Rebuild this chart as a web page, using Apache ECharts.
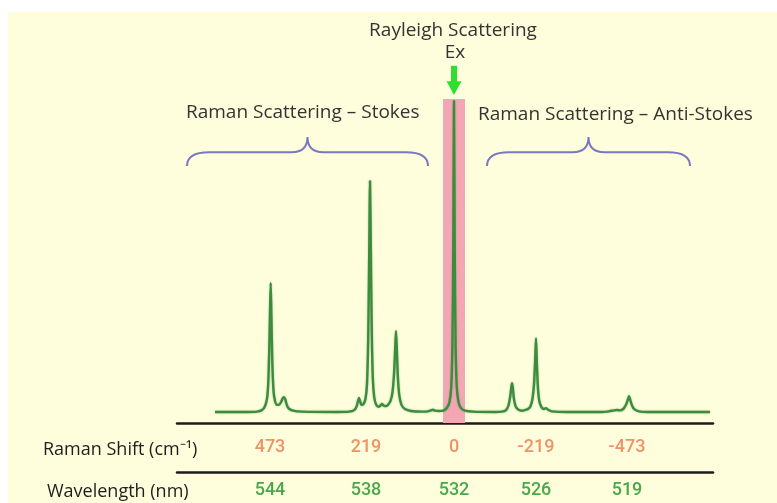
<!DOCTYPE html>
<html>
<head>
<meta charset="utf-8">
<script src="https://cdn.jsdelivr.net/npm/echarts@6/dist/echarts.min.js"></script>
<style>
  html, body { margin: 0; padding: 0; background: #ffffff; }
  #chart { width: 777px; height: 503px; }
</style>
</head>
<body>
<div id="chart"></div>
<script>
// Spectrum: [channel, intensity]; channel runs along the detector, intensity in arbitrary units
const spectrum = [
  [38, 3.4], [70, 3.4], [80, 3.5], [85, 4.0], [88, 5.2], [90, 7.5], [91.2, 12], [92.2, 22], [93, 34], [93.7, 43.2],
  [94.4, 33], [95.3, 19], [96.5, 10], [98, 6.8], [100, 5.6], [102, 5.6], [104, 6.4], [105.5, 7.5], [107, 8.0],
  [108.3, 7.3], [110, 5.4], [112, 4.4], [116, 3.8], [125, 3.5], [160, 3.4], [172, 3.5], [177, 3.9], [179.5, 5.0],
  [181, 6.8], [182, 7.7], [183, 6.8], [184.5, 5.6], [186.5, 5.8], [188.5, 7.5], [190, 12], [191.2, 26], [192.2, 52],
  [193, 74.7], [193.8, 55], [194.7, 30], [195.8, 14], [197.2, 8], [199, 5.8], [201.5, 5.0], [203.5, 5.4], [205, 5.9],
  [206.5, 5.4], [208.5, 5.2], [211, 5.6], [213.5, 6.8], [215.5, 9.5], [217, 15], [218.2, 23], [219, 28.4],
  [219.8, 23], [220.9, 14], [222.3, 8.5], [224.5, 5.6], [228, 4.3], [234, 3.7], [245, 3.5], [251, 3.6], [254, 3.9],
  [256, 4.1], [258, 3.8], [262, 3.7], [267, 3.9], [270, 4.7], [272.5, 6.5], [274.2, 11], [275.4, 24], [276.3, 55],
  [277, 99.4], [277.7, 55], [278.6, 24], [279.8, 11], [281.5, 6.5], [284, 4.6], [288, 3.8], [296, 3.5], [318, 3.4],
  [325, 3.5], [329, 4.0], [331.5, 5.4], [333.2, 8.2], [334.3, 11], [335, 12.3], [335.8, 11], [336.9, 7.5],
  [338.8, 5.0], [341.5, 4.1], [345, 3.8], [348, 4.0], [351, 4.3], [353.5, 5.2], [355.5, 7.5], [357, 12], [358.1, 19],
  [359, 26.2], [359.8, 19], [360.9, 11], [362.3, 6.8], [364.5, 4.9], [367, 4.3], [369, 4.6], [371, 4.1], [375, 3.6],
  [390, 3.4], [425, 3.4], [432, 3.6], [437, 3.9], [440, 4.0], [443, 3.9], [446.5, 4.4], [449, 5.6], [450.8, 7.2],
  [452, 8.3], [453.2, 7.2], [455, 5.4], [457.5, 4.2], [462, 3.6], [470, 3.4], [533, 3.4]
];

// Ticks sit under the lines they name
const tickChannels = [93, 189, 277, 359, 450];
const ramanShiftLabels = ['473', '219', '0', '-219', '-473'];
const wavelengthLabels = ['544', '538', '532', '526', '519'];

// Elastic (Rayleigh) band around the excitation line
const rayleighBand = [266, 288];
// Stokes / anti-Stokes regions, in channels
const stokesRange = [10, 251];
const antiStokesRange = [310, 513];
const excitationChannel = 277;

const FONT = '"Open Sans"';
const NUM_FONT = 'Roboto';
const TEXT = '#333333';

const chart = echarts.init(document.getElementById('chart'), null, { renderer: 'canvas' });

function labelFor(list) {
  return function (v) {
    const i = tickChannels.indexOf(v);
    return i >= 0 ? list[i] : '';
  };
}

const axisLine = { show: true, lineStyle: { color: '#1b1b1b', width: 2.5 } };

// Braces over the Raman regions and the excitation arrow, placed in data space
function renderOverlay(params, api) {
  const kind = api.value(0);
  if (kind === 0 || kind === 1) {
    const r = kind === 0 ? stokesRange : antiStokesRange;
    const a = api.coord([r[0], 79.3]);
    const b = api.coord([r[1], 79.3]);
    const yF = api.coord([0, 83.6])[1];
    const yT = api.coord([0, 88.3])[1];
    const yE = a[1];
    const mid = (a[0] + b[0]) / 2;
    const path = 'M' + a[0] + ',' + yE +
      ' Q' + a[0] + ',' + yF + ' ' + (a[0] + 22) + ',' + yF +
      ' L' + (mid - 16) + ',' + yF +
      ' Q' + mid + ',' + yF + ' ' + mid + ',' + yT +
      ' Q' + mid + ',' + yF + ' ' + (mid + 16) + ',' + yF +
      ' L' + (b[0] - 22) + ',' + yF +
      ' Q' + b[0] + ',' + yF + ' ' + b[0] + ',' + yE;
    return {
      type: 'path',
      shape: { pathData: path },
      style: { fill: null, stroke: '#7b78c2', lineWidth: 2 }
    };
  }
  const top = api.coord([excitationChannel, 110.3]);
  const tip = api.coord([excitationChannel, 101.2]);
  const neck = api.coord([excitationChannel, 105.5]);
  const x = top[0];
  return {
    type: 'polygon',
    shape: {
      points: [
        [x - 3, top[1]], [x + 3, top[1]], [x + 3, neck[1]], [x + 7.5, neck[1]],
        [x, tip[1]], [x - 7.5, neck[1]], [x - 3, neck[1]]
      ]
    },
    style: { fill: '#2ee02e' }
  };
}

const option = {
  backgroundColor: '#ffffff',
  animation: false,
  grid: { left: 177, right: 64, top: 18, bottom: 80 },
  xAxis: [
    {
      type: 'value', min: 0, max: 536, position: 'bottom',
      axisLine: axisLine, axisTick: { show: false }, splitLine: { show: false },
      axisLabel: {
        customValues: tickChannels, formatter: labelFor(ramanShiftLabels),
        color: '#ef9266', fontFamily: NUM_FONT, fontSize: 18, fontWeight: 500, margin: 15
      }
    },
    {
      type: 'value', min: 0, max: 536, position: 'bottom', offset: 49,
      axisLine: axisLine, axisTick: { show: false }, splitLine: { show: false },
      axisLabel: {
        customValues: tickChannels, formatter: labelFor(wavelengthLabels),
        color: '#4aa84a', fontFamily: NUM_FONT, fontSize: 18, fontWeight: 500, margin: 9
      }
    }
  ],
  yAxis: { type: 'value', min: 0, max: 125, show: false },
  graphic: [
    { type: 'rect', z: -100, silent: true, shape: { x: 8, y: 12, width: 769, height: 491 }, style: { fill: '#fefedc' } },
    { type: 'text', x: 453, y: 31, style: { text: 'Rayleigh Scattering', fontFamily: FONT, fontSize: 19, fill: TEXT, align: 'center', verticalAlign: 'middle' } },
    { type: 'text', x: 455, y: 53, style: { text: 'Ex', fontFamily: FONT, fontSize: 19, fill: TEXT, align: 'center', verticalAlign: 'middle' } },
    { type: 'text', x: 186, y: 113, style: { text: 'Raman Scattering – Stokes', fontFamily: FONT, fontSize: 19, fill: TEXT, align: 'left', verticalAlign: 'middle' } },
    { type: 'text', x: 478, y: 115, style: { text: 'Raman Scattering – Anti-Stokes', fontFamily: FONT, fontSize: 19, fill: TEXT, align: 'left', verticalAlign: 'middle' } },
    { type: 'text', x: 43, y: 450, style: { text: 'Raman Shift (cm\u207B\u00B9)', fontFamily: FONT, fontSize: 18, fill: '#1e1e1e', align: 'left', verticalAlign: 'middle' } },
    { type: 'text', x: 47, y: 492, style: { text: 'Wavelength (nm)', fontFamily: FONT, fontSize: 18, fill: '#1e1e1e', align: 'left', verticalAlign: 'middle' } }
  ],
  series: [
    {
      type: 'line', name: 'band', data: [], z: 1, silent: true,
      markArea: {
        silent: true,
        itemStyle: { color: '#f5a6b4' },
        data: [[{ xAxis: rayleighBand[0], yAxis: 0 }, { xAxis: rayleighBand[1], yAxis: 100 }]]
      }
    },
    {
      type: 'line', name: 'spectrum', data: spectrum, z: 3,
      showSymbol: false, symbol: 'none', smooth: 0.25,
      lineStyle: { color: '#3c8c3c', width: 2.4, shadowColor: 'rgba(90,150,90,0.55)', shadowBlur: 2 }
    },
    {
      type: 'custom', name: 'overlay', z: 4, silent: true,
      renderItem: renderOverlay,
      data: [[0], [1], [2]]
    }
  ]
};

chart.setOption(option);
</script>
</body>
</html>
